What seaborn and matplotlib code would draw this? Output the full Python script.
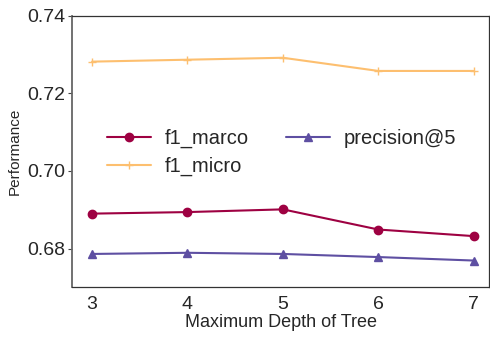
import matplotlib
matplotlib.use("Agg")
import matplotlib.pyplot as plt
import pandas as pd
import seaborn as sns

depths = [3, 4, 5, 6, 7]
f1_marco = [0.6890, 0.6894, 0.6901, 0.6849, 0.6832]
f1_micro = [0.7282, 0.7287, 0.7292, 0.7258, 0.7258]
precision_at_5 = [0.6786, 0.6789, 0.6786, 0.6778, 0.6769]

series = {"f1_marco": f1_marco, "f1_micro": f1_micro, "precision@5": precision_at_5}
markers = {"f1_marco": "o", "f1_micro": "+", "precision@5": "^"}
msizes = {"f1_marco": 6, "f1_micro": 6, "precision@5": 6}
colors = {"f1_marco": "#9e0142", "f1_micro": "#fdbf6f", "precision@5": "#5e4fa2"}

df = pd.DataFrame(
    [(d, name, v) for name, vals in series.items() for d, v in zip(depths, vals)],
    columns=["depth", "metric", "value"],
)

sns.set_theme(style="white")
plt.rcParams["font.family"] = ["Liberation Sans", "DejaVu Sans"]

fig, ax = plt.subplots(figsize=(4.9, 3.38), dpi=100)
for name in series:
    sub = df[df["metric"] == name]
    sns.lineplot(
        data=sub, x="depth", y="value", ax=ax, color=colors[name],
        marker=markers[name], markersize=msizes[name],
        markeredgewidth=1.0, markeredgecolor=colors[name],
        linewidth=1.5, label=name,
    )

ax.set_xlim(2.79, 7.16)
ax.set_ylim(0.670, 0.74)
ax.set_xticks(depths)
ax.set_yticks([0.68, 0.70, 0.72, 0.74])
ax.tick_params(axis="both", labelsize=14, colors="#262626")
ax.tick_params(axis="x", pad=0)
ax.tick_params(axis="y", left=True, length=3, width=0.8, color="#444444", pad=2)
ax.set_xlabel("Maximum Depth of Tree", fontsize=13, color="#262626", labelpad=1)
ax.set_ylabel("Performance", fontsize=11, color="#262626")
for s in ax.spines.values():
    s.set_color("#333333")
    s.set_linewidth(0.9)
ax.spines["left"].set_color("#666666")
ax.spines["left"].set_linewidth(1.3)

ax.legend(loc="center left", bbox_to_anchor=(0.04, 0.497), ncol=2, frameon=False,
          fontsize=14.5, handlelength=2.2, columnspacing=1.8, labelspacing=0.45,
          handletextpad=0.7)

fig.subplots_adjust(left=0.147, right=0.998, top=0.953, bottom=0.15)
fig.savefig("out.png", dpi=100)
